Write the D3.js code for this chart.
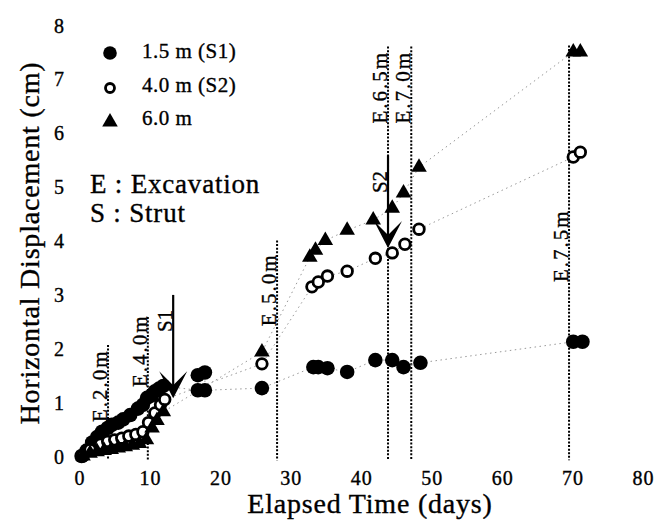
<!DOCTYPE html>
<html>
<head>
<meta charset="utf-8">
<script src="https://cdn.jsdelivr.net/npm/d3@7"></script>
<style>
  body { margin: 0; background: #fff; }
  svg { display: block; }
  text { font-family: "Liberation Serif", "Times New Roman", serif; fill: #000; stroke: #000; stroke-width: 0.35px; }
</style>
</head>
<body>
<script>
const W = 670, H = 529

// data: [day, displacement cm]
const s1Points = [[0.3,0.0],[1.0,0.1],[1.8,0.25],[2.5,0.35],[3.2,0.45],[4.0,0.52],[4.6,0.58],[5.5,0.62],[6.2,0.68],
  [7.2,0.76],[8.3,0.88],[9.0,0.95],[9.6,1.08],[10.2,1.12],[10.7,1.2],[11.3,1.25],[11.9,1.3],[16.8,1.22],[16.8,1.5],
  [17.8,1.55],[17.8,1.22],[25.9,1.26],[33.2,1.65],[33.9,1.65],[35.2,1.63],[38.0,1.56],[42.0,1.78],[44.4,1.78],
  [46.0,1.65],[48.4,1.73],[70.1,2.12],[71.4,2.12]]
const s2Points = [[0.5,0.0],[1.5,0.12],[3.0,0.22],[4.0,0.27],[5.0,0.3],[6.0,0.33],[7.0,0.37],[8.0,0.4],[9.0,0.45],
  [9.8,0.62],[10.7,0.8],[11.5,0.95],[12.1,1.05],[25.9,1.71],[33.0,3.14],[33.9,3.23],[35.2,3.34],[38.0,3.43],
  [42.0,3.67],[44.4,3.77],[46.2,3.93],[48.2,4.21],[70.1,5.55],[71.1,5.64]]
const s3Points = [[0.5,0.0],[1.5,0.05],[2.5,0.08],[3.5,0.1],[4.5,0.12],[5.5,0.15],[6.5,0.17],[7.5,0.2],[8.5,0.23],
  [9.5,0.3],[10.3,0.52],[11.0,0.66],[11.9,0.82],[25.9,1.93],[32.7,3.69],[33.5,3.82],[34.9,4.0],[38.0,4.19],
  [41.7,4.38],[44.4,4.6],[46.0,4.88],[48.2,5.36],[70.1,7.5],[71.1,7.5]]

const seriesNames = ['1.5 m (S1)', '4.0 m (S2)', '6.0 m']

const xTicks = [0, 10, 20, 30, 40, 50, 60, 70, 80]
const yTicks = [0, 1, 2, 3, 4, 5, 6, 7, 8]

// excavation stages: day, top of line, label start (cm)
const eventLabels = ['E.2.0m', 'E.4.0m', 'E.5.0m', 'E.6.5m', 'E.7.0m', 'E.7.5m']
const eventDays = [4.05, 9.7, 28.05, 43.8, 47.1, 69.5]
const eventTops = [2.06, 2.58, 4.0, 7.6, 7.6, 7.62]
const eventLabelAt = [0.63, 1.28, 2.41, 6.17, 6.17, 3.23]

// struts: day, arrow from / to (cm), label start
const strutLabels = ['S1', 'S2']
const strutDays = [13.3, 43.8]
const strutFrom = [2.99, 5.58]
const strutTo = [1.07, 3.86]
const strutLabelAt = [2.3, 4.88]

const notes = ['E : Excavation', 'S : Strut']

// scales
const x = d3.scaleLinear().domain([0, 80]).range([79.5, 643])
const y = d3.scaleLinear().domain([0, 8]).range([456, 25])

const svg = d3.select('body').append('svg')
  .attr('width', W)
  .attr('height', H)

// axes (labels only, no lines)
const xAxis = svg.append('g')
  .attr('class', 'x axis')
  .attr('transform', 'translate(0,485)')
  .call(d3.axisBottom(x).tickValues(xTicks).tickSize(0))
xAxis.select('.domain').remove()
xAxis.selectAll('text')
  .attr('y', 0).attr('dy', 0)
  .style('font-family', '"Liberation Serif", serif')
  .style('font-size', '20px')
  .style('letter-spacing', '1px')

const yAxis = svg.append('g')
  .attr('class', 'y axis')
  .attr('transform', 'translate(64,0)')
  .call(d3.axisLeft(y).tickValues(yTicks).tickSize(0))
yAxis.select('.domain').remove()
yAxis.selectAll('text')
  .attr('x', 0).attr('dy', '0.35em')
  .style('font-family', '"Liberation Serif", serif')
  .style('font-size', '20px')

svg.append('text')
  .attr('x', 370).attr('y', 513)
  .attr('text-anchor', 'middle')
  .style('font-size', '28px')
  .style('letter-spacing', '0.8px')
  .text('Elapsed Time (days)')

svg.append('text')
  .attr('transform', 'translate(39,243) rotate(-90)')
  .attr('text-anchor', 'middle')
  .style('font-size', '28px')
  .style('letter-spacing', '0.8px')
  .text('Horizontal Displacement (cm)')

// excavation lines
const ev = svg.append('g').attr('class', 'events')
eventDays.forEach((d, i) => {
  ev.append('line')
    .attr('x1', x(d)).attr('x2', x(d))
    .attr('y1', y(eventTops[i])).attr('y2', y(-0.08))
    .attr('stroke', '#000')
    .attr('stroke-width', 2)
    .attr('stroke-dasharray', '2,1.6')
  ev.append('text')
    .attr('transform', 'translate(' + [x(d) - 1, y(eventLabelAt[i])] + ') rotate(-90)')
    .style('font-size', '21px')
    .style('letter-spacing', '2px')
    .text(eventLabels[i])
})

// gray dotted connection lines
const line = d3.line().x((d) => x(d[0])).y((d) => y(d[1]))
;[s1Points, s2Points, s3Points].forEach((pts) => {
  svg.append('path')
    .attr('d', line(pts))
    .attr('fill', 'none')
    .attr('stroke', '#999')
    .attr('stroke-width', 1)
    .attr('stroke-dasharray', '1.5,3.5')
})

// struts
const st = svg.append('g').attr('class', 'struts')
strutDays.forEach((d, i) => {
  let cx = x(d), top = y(strutFrom[i]), tip = y(strutTo[i])
  st.append('line')
    .attr('x1', cx).attr('x2', cx)
    .attr('y1', top).attr('y2', tip - 8)
    .attr('stroke', '#000')
    .attr('stroke-width', 2.2)
  st.append('path')
    .attr('d', 'M' + cx + ' ' + tip + 'L' + (cx - 14) + ' ' + (tip - 27) + 'L' + cx + ' ' + (tip - 13) +
               'L' + (cx + 14) + ' ' + (tip - 27) + 'Z')
    .attr('fill', '#000')
  st.append('text')
    .attr('transform', 'translate(' + [cx - 1, y(strutLabelAt[i])] + ') rotate(-90)')
    .style('font-size', '21px')
    .text(strutLabels[i])
})

// markers
const tri = d3.symbol().type(d3.symbolTriangle).size(105)

svg.append('g').selectAll('circle')
  .data(s1Points)
  .enter().append('circle')
    .attr('cx', (d) => x(d[0])).attr('cy', (d) => y(d[1]))
    .attr('r', 7.3)
    .attr('fill', '#000')

svg.append('g').selectAll('circle')
  .data(s2Points)
  .enter().append('circle')
    .attr('cx', (d) => x(d[0])).attr('cy', (d) => y(d[1]))
    .attr('r', 5.3)
    .attr('fill', '#fff')
    .attr('stroke', '#000')
    .attr('stroke-width', 2.8)

svg.append('g').selectAll('path')
  .data(s3Points)
  .enter().append('path')
    .attr('d', tri)
    .attr('transform', (d) => 'translate(' + [x(d[0]), y(d[1])] + ')')
    .attr('fill', '#000')

// legend
const legend = svg.append('g').attr('class', 'legend')
legend.append('circle').attr('cx', 110).attr('cy', 53).attr('r', 6.8).attr('fill', '#000')
legend.append('circle').attr('cx', 110).attr('cy', 88).attr('r', 4.5)
  .attr('fill', '#fff').attr('stroke', '#000').attr('stroke-width', 2.8)
legend.append('path').attr('d', tri).attr('transform', 'translate(110,122)').attr('fill', '#000')
seriesNames.forEach((s, i) => {
  legend.append('text')
    .attr('x', 142).attr('y', [58, 92, 125][i])
    .style('font-size', '21px')
    .style('letter-spacing', '0.5px')
    .text(s)
})

notes.forEach((n, i) => {
  svg.append('text')
    .attr('x', 90).attr('y', 193 + i * 29)
    .style('font-size', '27px')
    .style('letter-spacing', '0.8px')
    .text(n)
})
</script>
</body>
</html>
